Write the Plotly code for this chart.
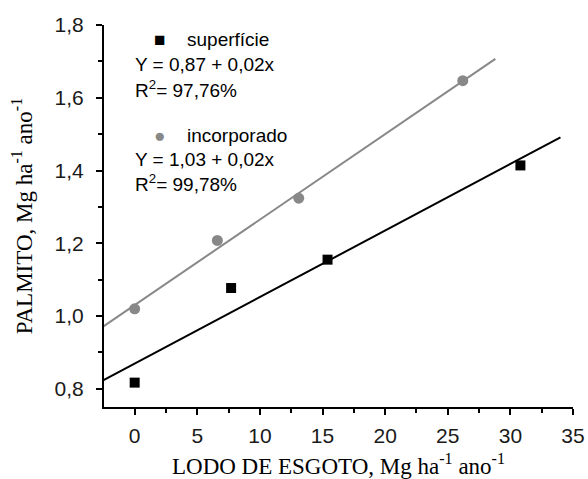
import numpy as np
import plotly.graph_objects as go

# Data
x_sup = [0, 7.7, 15.4, 30.8]
y_sup = [0.817, 1.077, 1.155, 1.414]
x_inc = [0, 6.6, 13.1, 26.2]
y_inc = [1.02, 1.208, 1.324, 1.647]
fit_range_sup = [-2.5, 34.0]
fit_range_inc = [-2.5, 28.8]
x_ticks = [0, 5, 10, 15, 20, 25, 30, 35]
y_ticks = [0.8, 1.0, 1.2, 1.4, 1.6, 1.8]
y_tick_labels = ["0,8", "1,0", "1,2", "1,4", "1,6", "1,8"]

GREY = "#888888"

def fit_line(xs, ys, xr):
    b, a = np.polyfit(xs, ys, 1)
    xx = np.array(xr)
    return xx, a + b * xx

fig = go.Figure()

xx, yy = fit_line(x_sup, y_sup, fit_range_sup)
fig.add_trace(go.Scatter(x=xx, y=yy, mode="lines", line=dict(color="black", width=2), showlegend=False))
xx, yy = fit_line(x_inc, y_inc, fit_range_inc)
fig.add_trace(go.Scatter(x=xx, y=yy, mode="lines", line=dict(color=GREY, width=2), showlegend=False))

fig.add_trace(go.Scatter(x=x_sup, y=y_sup, mode="markers",
                         marker=dict(symbol="square", size=10, color="black"), showlegend=False))
fig.add_trace(go.Scatter(x=x_inc, y=y_inc, mode="markers",
                         marker=dict(symbol="circle", size=11, color=GREY), showlegend=False))

L, R, T, B = 104, 15, 25, 72
W, H = 588, 479
pw, ph = W - L - R, H - T - B

def px(x):
    return (x - L) / pw

def py(y):
    return (H - B - y) / ph

ann_font = dict(family="Liberation Sans, Arial, sans-serif", size=19, color="black")
notes = [
    (152, 40, "<span style='color:black'>■</span>"),
    (185, 40, "superfície"),
    (133, 64, "Y = 0,87 + 0,02x"),
    (133, 89, "R<sup>2</sup>= 97,76%"),
    (152, 135, "<span style='color:#888888'>●</span>"),
    (185, 135, "incorporado"),
    (133, 159, "Y = 1,03 + 0,02x"),
    (133, 183, "R<sup>2</sup>= 99,78%"),
]
for x, y, t in notes:
    fig.add_annotation(x=px(x), y=py(y), xref="paper", yref="paper", text=t,
                       showarrow=False, xanchor="left", yanchor="middle", font=ann_font)

title_font = dict(family="Liberation Serif, Times New Roman, serif", size=23, color="black")
tick_font = dict(family="Liberation Sans, Arial, sans-serif", size=21, color="#1a1a1a")

fig.update_layout(
    width=W, height=H,
    margin=dict(l=L, r=R, t=T, b=B),
    paper_bgcolor="white", plot_bgcolor="white",
    xaxis=dict(
        range=[-2.45, 35], tickvals=x_ticks, ticks="outside", ticklen=6, tickwidth=2,
        tickcolor="black", showline=True, linecolor="black", linewidth=2, automargin=False,
        showgrid=False, zeroline=False, tickfont=tick_font, ticklabelstandoff=3,
        minor=dict(dtick=2.5, tick0=0, ticks="outside", ticklen=4, tickwidth=2, tickcolor="black"),
        title=dict(text="LODO DE ESGOTO, Mg ha<sup>-1</sup> ano<sup>-1</sup>", font=title_font, standoff=22),
    ),
    yaxis=dict(
        range=[0.75, 1.8], tickvals=y_ticks, ticktext=y_tick_labels, ticks="outside", ticklen=6,
        tickwidth=2, tickcolor="black", showline=True, linecolor="black", linewidth=2, automargin=False,
        showgrid=False, zeroline=False, tickfont=tick_font, ticklabelstandoff=8,
        minor=dict(dtick=0.1, tick0=0.8, ticks="outside", ticklen=4, tickwidth=2, tickcolor="black"),
        title=dict(text="PALMITO, Mg ha<sup>-1</sup> ano<sup>-1</sup>", font=title_font, standoff=16),
    ),
)

fig.write_html("out.html", config={"displayModeBar": False},
               post_script="document.body.style.margin='0';document.body.style.overflow='hidden';")
